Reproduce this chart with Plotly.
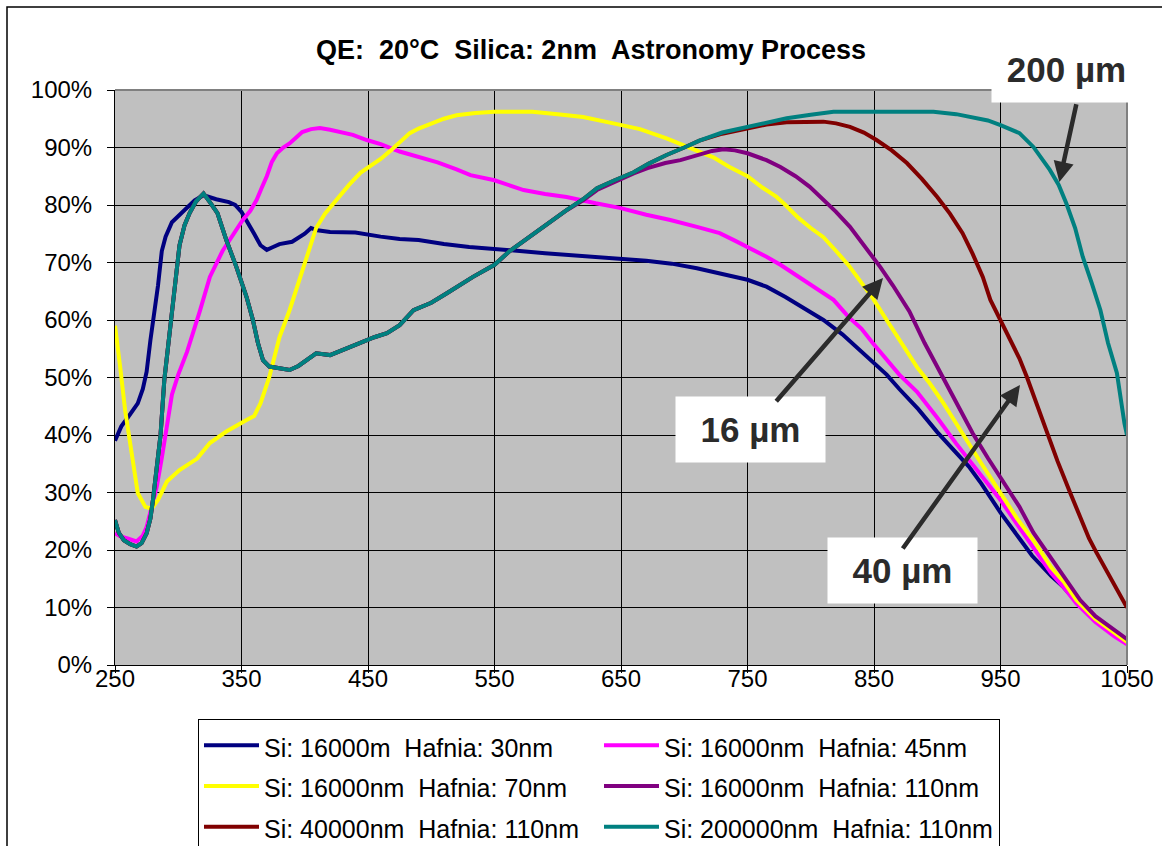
import plotly.graph_objects as go

# ---------------- data ----------------
names = [
    "Si: 16000m  Hafnia: 30nm",
    "Si: 16000nm  Hafnia: 45nm",
    "Si: 16000nm  Hafnia: 70nm",
    "Si: 16000nm  Hafnia: 110nm",
    "Si: 40000nm  Hafnia: 110nm",
    "Si: 200000nm  Hafnia: 110nm",
]
colors = ["#000080", "#FF00FF", "#FFFF00", "#800080", "#800000", "#008080"]

wl_h30 = [250, 255, 260, 265, 268, 272, 275, 278, 281, 284, 287, 290, 295, 300, 307, 313, 320, 330, 340,
          345, 350, 355, 360, 365, 370, 375, 380, 390, 400, 405, 410, 420, 440, 460, 475, 490, 510, 530,
          550, 570, 590, 610, 630, 650, 670, 690, 710, 730, 750, 765, 780, 795, 810, 825, 840, 850, 860,
          870, 885, 900, 915, 925, 935, 950, 965, 975, 990, 1000, 1010, 1025, 1040, 1050]
qe_h30 = [39, 41.5, 43, 44.5, 45.5, 48, 51, 56.5, 61, 66, 72, 74.5, 77, 78, 79.5, 80.8, 81.7, 81, 80.5,
          80, 78.8, 77, 75, 73, 72.2, 72.7, 73.2, 73.6, 75, 76, 75.6, 75.3, 75.2, 74.5, 74.1, 73.9, 73.2, 72.7,
          72.4, 72, 71.6, 71.3, 71, 70.7, 70.3, 69.8, 69, 68, 67, 65.8, 64, 62, 60, 57.5, 54.5, 52.5, 50.5,
          48, 44.5, 40.5, 37, 34.5, 31.5, 26.5, 22, 19, 15.5, 13.5, 11, 8, 5.5, 4]

wl_h45 = [250, 255, 260, 267, 272, 275, 279, 283, 287, 291, 295, 300, 307, 317, 325, 335, 345, 351, 357,
          362, 366, 370, 374, 378, 383, 388, 393, 398, 405, 412, 420, 428, 438, 449, 460, 475, 490, 505,
          520, 531, 550, 560, 573, 590, 607, 630, 649, 670, 689, 710, 728, 740, 750, 765, 776, 790, 805,
          818, 830, 840, 849, 860, 870, 884, 900, 915, 924, 936, 950, 963, 976, 990, 1000, 1010, 1025,
          1040, 1050]
qe_h45 = [22.9, 22.3, 22, 21.5, 22.5, 24, 27.5, 31, 36, 41, 47, 50.5, 54.5, 61.5, 67.5, 72, 75.5, 77.4, 79,
          80.9, 83, 85, 87.5, 89, 90, 90.7, 91.7, 92.7, 93.2, 93.4, 93.1, 92.7, 92.2, 91.3, 90.6, 89.3, 88.4, 87.4,
          86.2, 85.2, 84.3, 83.6, 82.6, 81.9, 81.4, 80.3, 79.5, 78.3, 77.4, 76.2, 75.1, 73.8, 72.7, 71, 69.6, 67.5, 65.3,
          63.5, 60.5, 58.5, 56, 53, 50.5, 47.5, 43, 38.5, 36, 32.5, 28.7, 24.5, 20.5, 16, 13.5, 10.7, 7.5,
          5, 3.6]

wl_h70 = [250, 252, 254, 258, 263, 268, 274, 279, 284, 291, 301, 315, 325, 338, 354, 360, 365, 372, 380,
          388, 398, 409, 416, 425, 435, 444, 452, 460, 468, 475, 483, 490, 500, 510, 520, 535, 550, 580,
          600, 620, 644, 665, 686, 700, 712, 723, 735, 750, 762, 773, 780, 790, 800, 810, 820, 830, 840,
          849, 860, 870, 884, 894, 905, 915, 923, 935, 950, 963, 976, 990, 1000, 1010, 1025, 1040, 1050]
qe_h70 = [59, 56, 52, 44.3, 36.8, 29.9, 27.5, 27.2, 28.7, 31.9, 33.9, 35.9, 38.6, 40.6, 42.6, 43.3, 45.5, 50.1, 57,
          61.7, 68.5, 76, 78.5, 81, 83.5, 85.6, 86.8, 88, 89.5, 91, 92.5, 93.3, 94.2, 95, 95.6, 96, 96.2, 96.2,
          95.8, 95.3, 94.2, 93.2, 91.6, 90.3, 89.2, 88.3, 86.7, 85, 83, 81.4, 80, 77.8, 76, 74.4, 72, 69.5, 66.5,
          63.8, 60, 56.5, 51.8, 49, 45.5, 42, 39.1, 35, 29.9, 25.5, 21.7, 17, 14.5, 11.3, 8, 5.5, 4]

wl_h110 = [250, 253, 257, 262, 267, 271, 275, 278, 280, 283, 286, 289, 293, 297, 301, 305, 309, 314, 320,
           325, 331, 338, 346, 354, 359, 363, 367, 372, 380, 388, 395, 401, 409, 420, 432, 444, 455, 465,
           475, 486, 500, 512, 522, 533, 550, 562, 576, 590, 607, 620, 631, 645, 660, 671, 685, 697, 712,
           722, 731, 740, 750, 765, 776, 788, 799, 810, 820, 831, 843, 855, 865, 878, 890, 904, 915, 928,
           940, 950, 965, 976, 987, 1000, 1013, 1025, 1040, 1050]
qe_h110 = [25.2, 23, 21.7, 21, 20.6, 21.2, 22.9, 25.5, 28.7, 34, 40, 49.6, 57, 65, 73, 76.5, 78.6, 80.6, 82,
           80.5, 78.6, 73.9, 69.2, 64, 60, 56, 53, 51.9, 51.6, 51.3, 52, 53, 54.2, 53.9, 55, 56, 57, 57.7,
           59.1, 61.7, 63, 64.6, 66, 67.5, 69.6, 72, 74.2, 76.5, 79.1, 80.8, 82.6, 84, 85.5, 86.4, 87.3, 87.8, 88.8,
           89.4, 89.7, 89.5, 89, 87.8, 86.6, 85, 83.2, 81, 78.8, 76.2, 72.8, 69.2, 66, 61.5, 56, 50.1, 45.5, 40.3,
           36, 32.7, 27.5, 23, 19.5, 15.5, 11.3, 8.5, 6, 4.5]

wl_si40 = [250, 253, 257, 262, 267, 271, 275, 278, 280, 283, 286, 289, 293, 297, 301, 305, 309, 314, 320,
           325, 331, 338, 346, 354, 359, 363, 367, 372, 380, 388, 395, 401, 409, 420, 432, 444, 455, 465,
           475, 486, 500, 512, 522, 533, 550, 562, 576, 590, 607, 620, 631, 645, 660, 672, 686, 700, 712,
           730, 750, 765, 781, 795, 810, 820, 831, 842, 852, 864, 876, 888, 900, 910, 920, 928, 936, 942,
           950, 958, 965, 971, 979, 987, 995, 1005, 1013, 1020, 1026, 1035, 1043, 1050]
qe_si40 = [25.2, 23, 21.7, 21, 20.6, 21.2, 22.9, 25.5, 28.7, 34, 40, 49.6, 57, 65, 73, 76.5, 78.6, 80.6, 82,
           80.5, 78.6, 73.9, 69.2, 64, 60, 56, 53, 51.9, 51.6, 51.3, 52, 53, 54.2, 53.9, 55, 56, 57, 57.7,
           59.1, 61.7, 63, 64.6, 66, 67.5, 69.6, 72, 74.2, 76.5, 79.1, 81, 82.9, 84.3, 85.7, 87.2, 88.7, 90, 91.2,
           92.4, 93.3, 94, 94.4, 94.5, 94.5, 94.2, 93.6, 92.6, 91.3, 89.5, 87.3, 84.5, 81.4, 78.5, 75.1, 71.5, 67.5, 63.5,
           60, 56.5, 53.3, 50, 45, 40.3, 35.5, 30, 25.7, 22, 19.5, 16, 13, 10]

wl_si200 = [250, 253, 257, 262, 267, 271, 275, 278, 280, 283, 286, 289, 293, 297, 301, 305, 309, 314, 320,
            325, 331, 338, 346, 354, 359, 363, 367, 372, 380, 388, 395, 401, 409, 420, 432, 444, 455, 465,
            475, 486, 500, 512, 522, 533, 550, 562, 576, 590, 607, 620, 631, 645, 660, 672, 686, 700, 712,
            730, 750, 765, 781, 800, 818, 850, 880, 897, 915, 928, 940, 950, 965, 976, 983, 989, 996, 1002,
            1009, 1015, 1022, 1029, 1035, 1042, 1048, 1050]
qe_si200 = [25.2, 23, 21.7, 21, 20.6, 21.2, 22.9, 25.5, 28.7, 34, 40, 49.6, 57, 65, 73, 76.5, 78.6, 80.6, 82,
            80.5, 78.6, 73.9, 69.2, 64, 60, 56, 53, 51.9, 51.6, 51.3, 52, 53, 54.2, 53.9, 55, 56, 57, 57.7,
            59.1, 61.7, 63, 64.6, 66, 67.5, 69.6, 72, 74.2, 76.5, 79.1, 81, 82.9, 84.3, 85.7, 87.2, 88.7, 90, 91.2,
            92.6, 93.6, 94.3, 95.1, 95.7, 96.2, 96.2, 96.2, 96.2, 95.8, 95.3, 94.7, 93.9, 92.5, 90.1, 88, 86.1, 83.5, 80.3,
            76, 71, 66.5, 61.7, 56, 50.8, 42, 40]

x_ticks = [250, 350, 450, 550, 650, 750, 850, 950, 1050]
y_ticks = [0, 10, 20, 30, 40, 50, 60, 70, 80, 90, 100]
y_tick_labels = ["0%", "10%", "20%", "30%", "40%", "50%", "60%", "70%", "80%", "90%", "100%"]

title_text = "QE:  20°C  Silica: 2nm  Astronomy Process"
callouts = ["200 µm", "16 µm", "40 µm"]

# ---------------- figure ----------------
series = [(wl_h30, qe_h30), (wl_h45, qe_h45), (wl_h70, qe_h70),
          (wl_h110, qe_h110), (wl_si40, qe_si40), (wl_si200, qe_si200)]

FONT = "Arial, Liberation Sans, sans-serif"

fig = go.Figure()
for (xs, ys), nm, col in zip(series, names, colors):
    fig.add_trace(go.Scatter(x=xs, y=ys, mode="lines",
                             name='<span style="font-size:25px">' + nm + '</span>',
                             line=dict(color=col, width=4)))

W, H = 1162, 846
L, R, T, B = 115, 35, 90, 181
PW, PH = W - L - R, H - T - B


def px_x(p):
    return (p - L) / PW


def px_y(p):
    return (H - B - p) / PH


fig.update_layout(
    width=W, height=H,
    margin=dict(l=L, r=R, t=T, b=B, autoexpand=False),
    paper_bgcolor="white",
    plot_bgcolor="#C0C0C0",
    font=dict(family=FONT, color="black", size=20),
    title=dict(text="<b>" + title_text + "</b>", x=591 / W, xref="container",
               xanchor="center", y=1 - 50 / H, yref="container", yanchor="middle",
               font=dict(family=FONT, size=27, color="black")),
    showlegend=True,
    legend=dict(orientation="h", x=px_x(198), xanchor="left", xref="paper",
                y=1 - 719 / H, yanchor="top", yref="container",
                bgcolor="white", bordercolor="black", borderwidth=1,
                font=dict(family=FONT, size=29, color="black"),
                itemwidth=55,
                entrywidth=330, entrywidthmode="pixels", traceorder="normal"),
)

fig.update_xaxes(range=[250, 1050], tickvals=x_ticks, showgrid=True, gridcolor="#000000",
                 gridwidth=1, zeroline=False, showline=True, linecolor="black", linewidth=1,
                 ticks="outside", ticklen=7, tickcolor="black", ticklabelstandoff=-15,
                 tickfont=dict(family=FONT, size=24, color="black"))
fig.update_yaxes(range=[0, 100], tickvals=y_ticks, ticktext=y_tick_labels, showgrid=True,
                 gridcolor="#000000", gridwidth=1, zeroline=False, showline=True,
                 linecolor="black", linewidth=1, ticks="outside", ticklen=7, tickcolor="black",
                 ticklabelstandoff=10,
                 tickfont=dict(family=FONT, size=24, color="black"))

# plot-area top/right border (gray) and outer chart frame
fig.add_shape(type="line", xref="paper", yref="paper", x0=0, x1=1, y0=1, y1=1,
              line=dict(color="#808080", width=2), layer="above")
fig.add_shape(type="line", xref="paper", yref="paper", x0=1, x1=1, y0=0, y1=1,
              line=dict(color="#808080", width=2), layer="above")
fig.add_shape(type="rect", xref="paper", yref="paper",
              x0=px_x(7), x1=px_x(1175), y0=px_y(860), y1=px_y(7),
              line=dict(color="black", width=1.5), fillcolor="rgba(0,0,0,0)", layer="below")

# callout boxes (paper coordinates so the top box may sit above the plot area)
box_pos = [(px_x(1066), px_y(70)), (px_x(750.5), px_y(429)), (px_x(902.5), px_y(570.5))]
for txt, (bx, by) in zip(callouts, box_pos):
    fig.add_annotation(x=bx, y=by, xref="paper", yref="paper", text="<b>" + txt + "</b>",
                       showarrow=False, bgcolor="white", width=149, height=65,
                       borderpad=0, xanchor="center", yanchor="middle",
                       font=dict(family=FONT, size=35, color="#2b2b2b"))

# arrows: (head x, head y, tail x, tail y) in data units
arrows = [(996.5, 84.0, 1010.2, 97.8), (857.1, 67.3, 771.7, 45.6), (965.4, 48.7, 871.9, 20.0)]
for hx, hy, tx, ty in arrows:
    fig.add_annotation(x=hx, y=hy, ax=tx, ay=ty, xref="x", yref="y", axref="x", ayref="y",
                       text="", showarrow=True, arrowhead=2, arrowsize=0.9, arrowwidth=4.5,
                       arrowcolor="#2b2b2b", standoff=0)

fig.write_html("out.html", config={"displayModeBar": False},
               post_script="document.body.style.margin='0';")
